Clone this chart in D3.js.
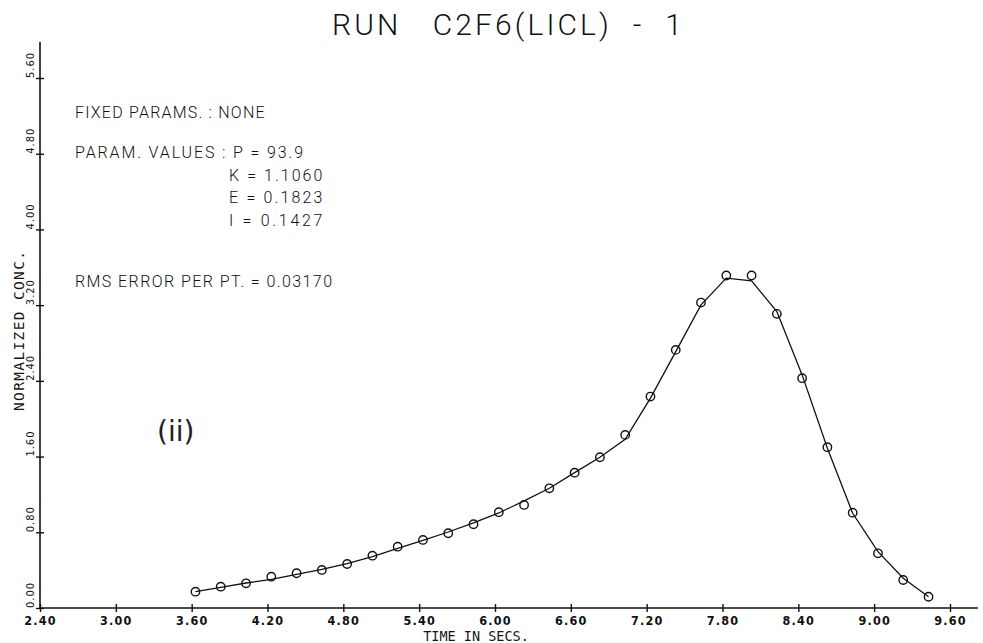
<!DOCTYPE html>
<html>
<head>
<meta charset="utf-8">
<script src="https://cdn.jsdelivr.net/npm/d3@7"></script>
<style>
  body { margin: 0; background: #fff; }
  .mono { font-family: "DejaVu Sans Mono", monospace; fill: #161616; }
  .plot { font-family: Roboto, "Open Sans", sans-serif; font-weight: 300; fill: #111; white-space: pre; }
  .narrow { font-family: "Liberation Sans Narrow", "DejaVu Sans Condensed", sans-serif; font-stretch: condensed; fill: #111; }
</style>
</head>
<body>
<div id="chart"></div>
<script>
// sample times (s) and concentrations
var times = [3.63, 3.83, 4.03, 4.23, 4.43, 4.63, 4.83, 5.03, 5.23, 5.43,
             5.63, 5.83, 6.03, 6.23, 6.43, 6.63, 6.83, 7.03, 7.23, 7.43,
             7.63, 7.83, 8.03, 8.23, 8.43, 8.63, 8.83, 9.03, 9.23, 9.43];
var observed = [0.172, 0.225, 0.261, 0.331, 0.367, 0.402, 0.465, 0.553, 0.648, 0.719,
                0.790, 0.885, 1.012, 1.089, 1.265, 1.430, 1.593, 1.829, 2.234, 2.727,
                3.227, 3.513, 3.513, 3.108, 2.428, 1.699, 1.007, 0.578, 0.296, 0.119];
var fitted = [0.172, 0.217, 0.264, 0.303, 0.356, 0.407, 0.470, 0.544, 0.629, 0.714,
              0.803, 0.899, 1.004, 1.131, 1.265, 1.430, 1.593, 1.783, 2.217, 2.709,
              3.203, 3.485, 3.457, 3.132, 2.463, 1.688, 1.001, 0.595, 0.314, 0.119];
var xTicks = [2.40, 3.00, 3.60, 4.20, 4.80, 5.40, 6.00, 6.60, 7.20, 7.80, 8.40, 9.00, 9.60];
var yTicks = [0.00, 0.80, 1.60, 2.40, 3.20, 4.00, 4.80, 5.60];

var titleText = "RUN   C2F6(LICL)  -  1";
var fixedLine = "FIXED PARAMS. : NONE";
var paramLines = ["PARAM. VALUES : P = 93.9", "K = 1.1060", "E = 0.1823", "I = 0.1427"];
var rmsLine = "RMS ERROR PER PT. = 0.03170";

var width = 983, height = 643;
var pitch = 9.63;   // plotter character pitch of the note block

var svg = d3.select("#chart")
  .append("svg")
    .attr("width", width)
    .attr("height", height);

var x = d3.scaleLinear()
    .domain([2.4, 9.6])
    .range([40, 950]);

var y = d3.scaleLinear()
    .domain([0, 5.6])
    .range([608, 78]);

var fmt = d3.format(".2f");

// X axis, plotter style "+" ticks
var xAxis = svg.append("g")
    .attr("transform", "translate(0," + y(0) + ")")
    .call(d3.axisBottom(x).tickValues(xTicks).tickSize(4).tickFormat(fmt));
xAxis.select(".domain").remove();
xAxis.selectAll(".tick line").attr("y1", -4).attr("y2", 4).attr("stroke", "#111").attr("stroke-width", 1.4);
xAxis.selectAll(".tick text")
    .attr("class", "narrow")
    .attr("y", 17)
    .attr("dy", 0)
    .style("font-size", "12.5px")
    .style("font-weight", "bold")
    .style("letter-spacing", "1.2px");
svg.append("line")
    .attr("x1", x(2.4)).attr("x2", 978)
    .attr("y1", y(0)).attr("y2", y(0))
    .attr("stroke", "#111").attr("stroke-width", 1.6);

// Y axis
var yAxis = svg.append("g")
    .attr("transform", "translate(" + x(2.4) + ",0)")
    .call(d3.axisLeft(y).tickValues(yTicks).tickSize(4).tickFormat(fmt));
yAxis.select(".domain").remove();
yAxis.selectAll(".tick line").attr("x1", -4).attr("x2", 4).attr("stroke", "#111").attr("stroke-width", 1.4);
yAxis.selectAll(".tick text").remove();
svg.append("line")
    .attr("x1", x(2.4)).attr("x2", x(2.4))
    .attr("y1", y(0)).attr("y2", 42)
    .attr("stroke", "#111").attr("stroke-width", 1.6);

svg.append("g")
  .selectAll("text")
  .data(yTicks)
  .enter()
  .append("text")
    .attr("class", "narrow")
    .attr("transform", function (d) { return "translate(34," + y(d) + ") rotate(-90)"; })
    .style("font-size", "11px")
    .style("letter-spacing", "1px")
    .text(function (d) { return fmt(d); });

// axis titles
svg.append("text")
    .attr("class", "mono")
    .attr("x", 476)
    .attr("y", 641)
    .style("text-anchor", "middle")
    .style("font-size", "13.5px")
    .text("TIME IN SECS.");

svg.append("text")
    .attr("class", "mono")
    .attr("transform", "translate(24,331) rotate(-90)")
    .style("text-anchor", "middle")
    .style("font-size", "14.5px")
    .attr("textLength", 160)
    .attr("lengthAdjust", "spacing")
    .text("NORMALIZED CONC.");

// title
svg.append("text")
    .attr("class", "plot")
    .attr("x", 332)
    .attr("y", 35)
    .style("font-size", "30px")
    .attr("textLength", 350)
    .attr("lengthAdjust", "spacing")
    .text(titleText);

// fit parameters block, spaced out like the plotter's fixed pitch
function note(str, x0, y0) {
  svg.append("text")
      .attr("class", "plot")
      .attr("x", x0).attr("y", y0)
      .style("font-size", "16px")
      .attr("textLength", str.length * pitch - 3)
      .attr("lengthAdjust", "spacing")
      .text(str);
}

note(fixedLine, 75, 118);
paramLines.forEach(function (d, i) {
  note(d, i == 0 ? 75 : 75 + 16 * pitch, 158 + i * 22.7);
});
note(rmsLine, 75, 287);

svg.append("text")
    .attr("x", 157).attr("y", 441)
    .style("font-family", "DejaVu Sans, sans-serif")
    .style("font-size", "28px")
    .style("fill", "#222")
    .text("(ii)");

// fitted curve
var line = d3.line()
    .x(function (d) { return x(d[0]); })
    .y(function (d) { return y(d[1]); });

svg.append("path")
    .datum(d3.zip(times, fitted))
    .attr("d", line)
    .attr("fill", "none")
    .attr("stroke", "#111")
    .attr("stroke-width", 1.3);

// observed points
svg.append("g")
  .selectAll("circle")
  .data(d3.zip(times, observed))
  .enter()
  .append("circle")
    .attr("cx", function (d) { return x(d[0]); })
    .attr("cy", function (d) { return y(d[1]); })
    .attr("r", 4.2)
    .attr("fill", "none")
    .attr("stroke", "#111")
    .attr("stroke-width", 1.4);
</script>
</body>
</html>
